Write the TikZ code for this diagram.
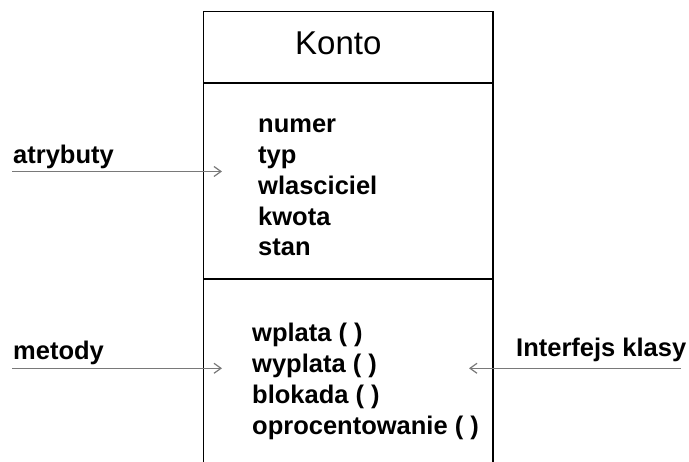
\documentclass[tikz,border=0pt]{standalone}
\usepackage{fontspec}
\setmainfont{Liberation Sans}
\usetikzlibrary{arrows.meta}
\tikzset{
  lbl/.style={anchor=base west, inner sep=0pt, font=\fontsize{25.5}{30}\selectfont\bfseries},
  title/.style={anchor=base west, inner sep=0pt, font=\fontsize{33}{38}\selectfont},
  boxline/.style={draw=black, line width=1.5pt},
  ptr/.style={draw=gray!95!black, line width=1.4pt, -{Straight Barb[length=7pt,width=10pt,line width=1.2pt]}}
}
\begin{document}
\begin{tikzpicture}[x=1pt,y=-1pt]
\useasboundingbox (0,0) rectangle (689,462);
% class box
\draw[boxline] (203.5,462) -- (203.5,11.5) -- (493,11.5) -- (493,462);
\draw[boxline] (203.5,83) -- (493,83);
\draw[boxline] (203.5,279) -- (493,279);
\node[title] (konto) at (295,54.3) {Konto};
% attributes
\node[lbl] (a1) at (258,132.7) {numer};
\node[lbl] (a2) at (258,163.5) {typ};
\node[lbl] (a3) at (258,194.3) {wlasciciel};
\node[lbl] (a4) at (258,225.1) {kwota};
\node[lbl] (a5) at (258,255.9) {stan};
% methods
\node[lbl] (m1) at (252,341.8) {wplata ( )};
\node[lbl] (m2) at (252,372.8) {wyplata ( )};
\node[lbl] (m3) at (252,403.8) {blokada ( )};
\node[lbl] (m4) at (252,434.8) {oprocentowanie ( )};
% side labels
\node[lbl] (atr) at (13,163.3) {atrybuty};
\node[lbl] (met) at (13,359.3) {metody};
\node[lbl] (intf) at (516,356.5) {Interfejs klasy};
% arrow endpoints
\coordinate (atrS) at (12,171.5);
\coordinate (atrE) at (222,171.5);
\coordinate (metS) at (12,368.3);
\coordinate (metE) at (222,368.3);
\coordinate (intS) at (681,368.3);
\coordinate (intE) at (469,368.3);
\draw[ptr] (atrS) -- (atrE);
\draw[ptr] (metS) -- (metE);
\draw[ptr] (intS) -- (intE);
\end{tikzpicture}
\end{document}
